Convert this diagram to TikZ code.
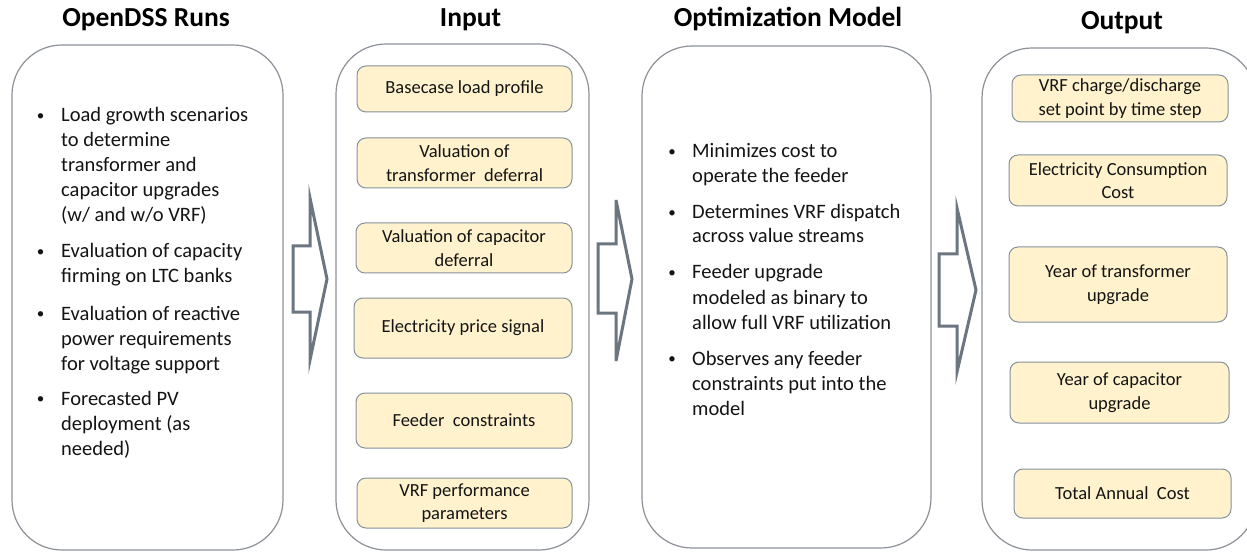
\documentclass[tikz,border=0pt]{standalone}
\usepackage{fontspec}
\setmainfont{Carlito}
\definecolor{bigline}{RGB}{140,145,152}
\definecolor{smline}{RGB}{135,145,158}
\definecolor{smfill}{RGB}{255,242,204}
\definecolor{arrline}{RGB}{108,118,128}
\definecolor{txt}{RGB}{20,20,20}
\tikzset{
  bigbox/.style={draw=bigline, line width=1.2pt, rounded corners=50pt, fill=white, inner sep=0pt},
  sbox/.style={draw=smline, line width=1pt, fill=smfill, rounded corners=9pt, inner sep=0pt, align=center,
    font=\fontsize{18.5}{23.5}\selectfont, text=txt},
  ttl/.style={font=\bfseries\fontsize{27.5}{30}\selectfont, text=black, inner sep=0pt},
  ln/.style={anchor=base west, inner sep=0pt, font=\fontsize{20.5}{25}\selectfont, text=txt},
  bul/.style={anchor=base, inner sep=0pt, font=\fontsize{15}{18}\selectfont, text=txt, yshift=1.8pt},
  blockarrow/.style={draw=arrline, line width=3pt, fill=white, line join=miter},
}
\begin{document}
\begin{tikzpicture}[x=1pt,y=-1pt]
\useasboundingbox (0,0) rectangle (1247,553);
\clip (0,0) rectangle (1247,553);
\fill[white] (0,0) rectangle (1247,553);
% titles
\node[ttl] (t1) at (146,20) {OpenDSS Runs};
\node[ttl] (t2) at (470.5,20) {Input};
\node[ttl] (t3) at (788,19) {Optimization Model};
\node[ttl] (t4) at (1122,23) {Output};
% big boxes
\node[bigbox, minimum width=271pt, minimum height=505pt] (c1) at (147.5,297.5) {};
\node[bigbox, minimum width=253pt, minimum height=506pt] (c2) at (462.5,297) {};
\node[bigbox, minimum width=289pt, minimum height=502pt] (c3) at (786.5,297) {};
\node[bigbox, minimum width=274pt, minimum height=502pt] (c4) at (1119,299) {};
% block arrows
\draw[blockarrow] (293,246) -- (310,246) -- (310,198) -- (327,279) -- (310,360) -- (310,312) -- (293,312) -- cycle;
\draw[blockarrow] (598,244) -- (616,244) -- (616,200) -- (632,279) -- (616,361) -- (616,313) -- (598,313) -- cycle;
\draw[blockarrow] (939,254) -- (957,254) -- (957,208) -- (976,290) -- (957,372) -- (957,326) -- (939,326) -- cycle;
% left column text
\node[bul] (lb1) at (40.5,122) {•};
\node[ln] (l1) at (61,122) {Load growth scenarios};
\node[ln] (l2) at (61,147) {to determine};
\node[ln] (l3) at (61,172) {transformer and};
\node[ln] (l4) at (61,197) {capacitor upgrades};
\node[ln] (l5) at (61,222) {(w/ and w/o VRF)};
\node[bul] (lb2) at (40.5,258) {•};
\node[ln] (l6) at (61,258) {Evaluation of capacity};
\node[ln] (l7) at (61,283) {firming on LTC banks};
\node[bul] (lb3) at (40.5,320) {•};
\node[ln] (l8) at (61,320) {Evaluation of reactive};
\node[ln] (l9) at (61,345) {power requirements};
\node[ln] (l10) at (61,370) {for voltage support};
\node[bul] (lb4) at (40.5,405) {•};
\node[ln] (l11) at (61,405) {Forecasted PV};
\node[ln] (l12) at (61,430) {deployment (as};
\node[ln] (l13) at (61,455) {needed)};
% input boxes
\node[sbox, minimum width=215pt, minimum height=46pt] (b1) at (464.5,89) {Basecase load profile};
\node[sbox, minimum width=215pt, minimum height=50pt] (b2) at (464.5,163) {Valuation of\\transformer\ \ deferral};
\node[sbox, minimum width=216pt, minimum height=50pt] (b3) at (464,248) {Valuation of capacitor\\deferral};
\node[sbox, minimum width=218pt, minimum height=60pt] (b4) at (463,328) {Electricity price signal};
\node[sbox, minimum width=216pt, minimum height=55pt] (b5) at (464,420.5) {Feeder\ \ constraints};
\node[sbox, minimum width=215pt, minimum height=50pt] (b6) at (464.5,503) {VRF performance\\parameters};
% middle text
\node[bul] (mb1) at (672,158) {•};
\node[ln] (m1) at (692,158) {Minimizes cost to};
\node[ln] (m2) at (692,183) {operate the feeder};
\node[bul] (mb2) at (672,219) {•};
\node[ln] (m3) at (692,219) {Determines VRF dispatch};
\node[ln] (m4) at (692,243) {across value streams};
\node[bul] (mb3) at (672,279) {•};
\node[ln] (m5) at (692,279) {Feeder upgrade};
\node[ln] (m6) at (692,304) {modeled as binary to};
\node[ln] (m7) at (692,329) {allow full VRF utilization};
\node[bul] (mb4) at (672,365) {•};
\node[ln] (m8) at (692,365) {Observes any feeder};
\node[ln] (m9) at (692,390) {constraints put into the};
\node[ln] (m10) at (692,415) {model};
% output boxes
\node[sbox, minimum width=216pt, minimum height=47pt] (o1) at (1120,98.5) {VRF charge/discharge\\set point by time\ step};
\node[sbox, minimum width=218pt, minimum height=51pt] (o2) at (1118,180.5) {Electricity Consumption\\Cost};
\node[sbox, minimum width=218pt, minimum height=75pt] (o3) at (1118,284.5) {Year of transformer\\upgrade};
\node[sbox, minimum width=219pt, minimum height=61pt] (o4) at (1119.5,392.5) {Year of capacitor\\upgrade};
\node[sbox, minimum width=217pt, minimum height=49pt] (o5) at (1122.5,493.5) {Total Annual\ \ Cost};
\end{tikzpicture}
\end{document}
